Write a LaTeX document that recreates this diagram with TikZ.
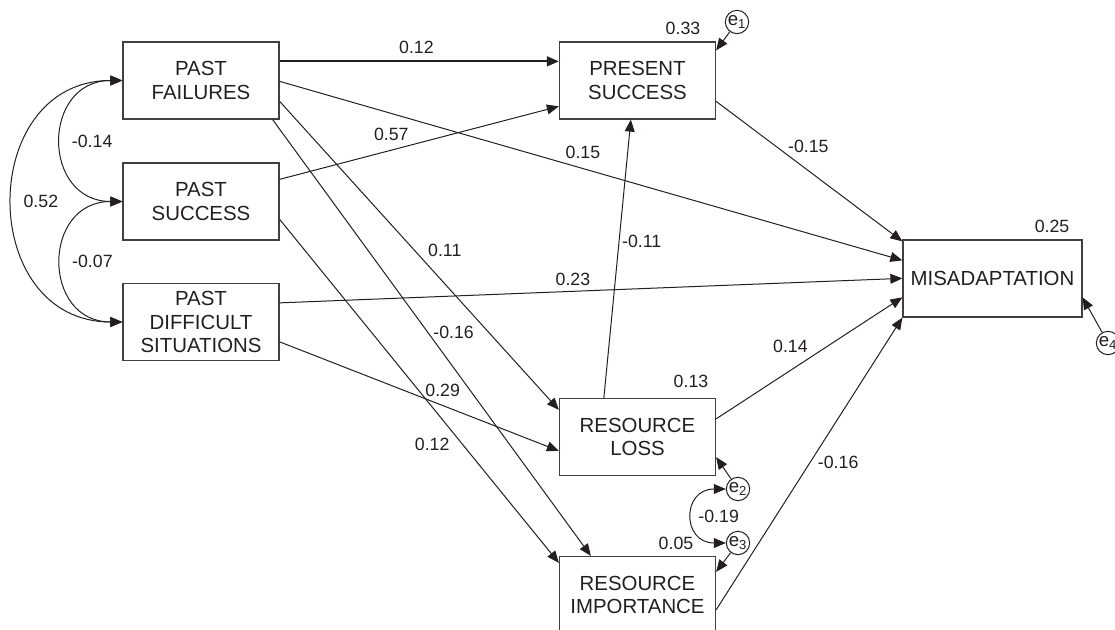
\documentclass[tikz,border=0pt]{standalone}
\usepackage{fontspec}
\setmainfont{Liberation Sans}
\usetikzlibrary{arrows.meta,calc}
\definecolor{ink}{HTML}{231F20}

\begin{document}
\begin{tikzpicture}[x=0.75pt,y=-0.75pt,line width=0.75pt,color=ink,
    >={Triangle[length=9pt,width=7.4pt]},
    box/.style={draw=black!75,line width=0.95pt,minimum width=117pt,minimum height=57.75pt,
      align=center,inner sep=2pt,font=\fontsize{15.3}{17.5}\selectfont},
    errc/.style={circle,draw,minimum size=17.5pt,inner sep=0pt,font=\fontsize{14}{14}\selectfont},
    coef/.style={inner sep=0pt,font=\fontsize{13.3}{13.3}\selectfont}]
    \useasboundingbox (0,0) rectangle (1115,630);
    % Nodes
    \node[box] (PF) at (201,80.5) {PAST\\FAILURES};
    \node[box] (PSu) at (201,201.5) {PAST\\SUCCESS};
    \node[box] (PDS) at (201,322) {PAST\\DIFFICULT\\SITUATIONS};
    \node[box] (PS) at (637.5,80.5) {PRESENT\\SUCCESS};
    \node[box,minimum width=134.25pt] (MIS) at (992.5,278.5) {MISADAPTATION};
    \node[box] (RL) at (637.5,437) {RESOURCE\\LOSS};
    \node[box] (RI) at (637.5,595) {RESOURCE\\IMPORTANCE};
    \node[errc] (e1) at (737,22) {e\textsubscript{1}};
    \node[errc] (e2) at (738,489) {e\textsubscript{2}};
    \node[errc] (e3) at (738,543) {e\textsubscript{3}};
    \node[errc] (e4) at (1108,343) {e\textsubscript{4}};
    \node[coef] (r1) at (683,28) {0.33};
    \node[coef] (r4) at (1052,226) {0.25};
    \node[coef] (r2) at (691,381) {0.13};
    \node[coef] (r3) at (676,543) {0.05};
    % Edges
    \path[draw,->,line width=1.4pt] ($(PF.north east)+(0,20)$) to node[coef,pos=0.49,yshift=10.5pt]{0.12} ($(PS.north west)+(0,20)$);
    \path[draw,->] ($(PSu.north east)+(0,17)$) to node[coef,pos=0.40,yshift=11.8pt]{0.57} ($(PS.north west)+(0,65)$);
    \path[draw,->] ($(PF.north east)+(0,40)$) to node[coef,pos=0.487,yshift=12pt]{0.15} ($(MIS.north west)+(0,21)$);
    \path[draw,->] ($(PF.north east)+(0,60)$) to node[coef,pos=0.484,xshift=22.5pt]{0.11} ($(RL.north west)+(0,12)$);
    \path[draw,->] ($(PF.south east)+(-7,0)$) to node[coef,pos=0.487,xshift=19.5pt]{-0.16} ($(RI.north west)+(32,0)$);
    \path[draw,->] ($(PSu.north east)+(0,57)$) to node[coef,pos=0.656,xshift=-23pt]{0.12} ($(RI.north west)+(0,7)$);
    \path[draw,->] ($(PDS.north east)+(0,20)$) to node[coef,pos=0.471,yshift=8.8pt]{0.23} ($(MIS.north west)+(0,39)$);
    \path[draw,->] ($(PDS.north east)+(0,59)$) to node[coef,pos=0.584,yshift=11pt]{0.29} ($(RL.north west)+(0,53)$);
    \path[draw,->] ($(PS.north east)+(0,60)$) to node[coef,pos=0.495,yshift=18pt]{-0.15} ($(MIS.north west)+(0,2)$);
    \path[draw,->] ($(RL.north west)+(45,0)$) to node[coef,pos=0.563,xshift=17pt]{-0.11} ($(PS.south west)+(72,0)$);
    \path[draw,->] ($(RL.north east)+(0,21)$) to node[coef,pos=0.399,yshift=17.8pt]{0.14} ($(MIS.north west)+(0,58)$);
    \path[draw,->] ($(RI.north east)+(0,54)$) to node[coef,pos=0.505,xshift=21pt]{-0.16} (MIS.south west);
    \path[draw,->] (e1) to ($(PS.north east)+(0,9)$);
    \path[draw,->] (e2) to ($(RL.south east)+(0,-19)$);
    \path[draw,->] (e3) to ($(RI.north east)+(0,16)$);
    \path[draw,->] (e4) to ($(MIS.north east)+(0,58)$);
    % Covariances
    \path[draw,<->] (PF.west) to[out=180,in=180,looseness=1.72] node[coef,xshift=23pt]{-0.14} (PSu.west);
    \path[draw,<->] (PSu.west) to[out=180,in=180,looseness=1.72] node[coef,xshift=23pt]{-0.07} (PDS.west);
    \path[draw,<->] (PF.west) to[out=180,in=180,looseness=1.55] node[coef,xshift=21pt]{0.52} (PDS.west);
    \path[draw,<->] (e2) to[out=180,in=180,looseness=2.1] node[coef,xshift=19.5pt]{-0.19} (e3);
\end{tikzpicture}
\end{document}
